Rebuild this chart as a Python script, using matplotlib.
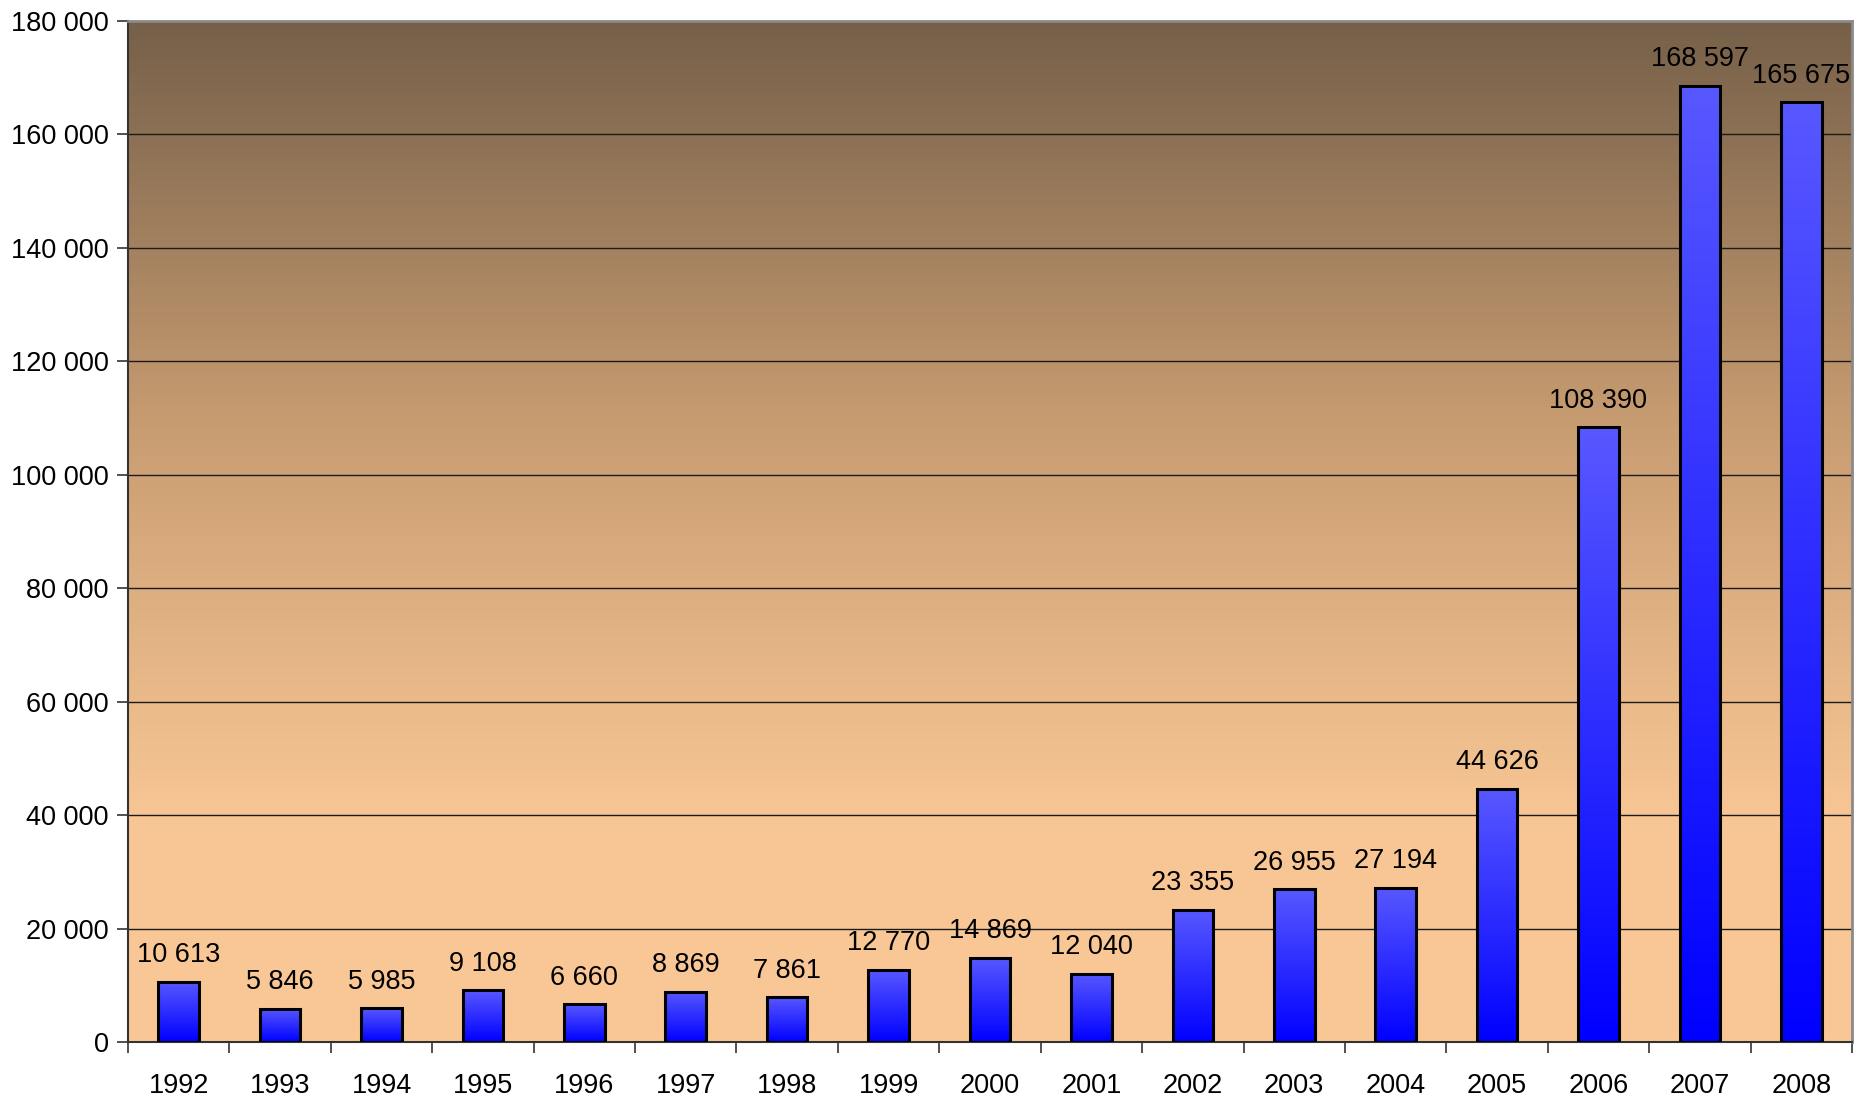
import numpy as np
import matplotlib.pyplot as plt
from matplotlib.colors import LinearSegmentedColormap

years = [str(y) for y in range(1992, 2009)]
values = [10613, 5846, 5985, 9108, 6660, 8869, 7861, 12770, 14869, 12040,
          23355, 26955, 27194, 44626, 108390, 168597, 165675]
y_ticks = [0, 20000, 40000, 60000, 80000, 100000, 120000, 140000, 160000, 180000]


def fmt(v):
    return f"{v:,}".replace(",", " ")


plt.rcParams['font.family'] = ['Liberation Sans', 'DejaVu Sans']

fig = plt.figure(figsize=(18.71, 10.98), dpi=100)
ax = fig.add_axes([128 / 1871, 1 - 1042 / 1098, (1852 - 128) / 1871, (1042 - 21) / 1098])

n = len(years)
x = np.arange(n)
ax.set_xlim(-0.5, n - 0.5)
ax.set_ylim(0, 180000)

# background gradient: brown at top, peach toward the bottom
bg = LinearSegmentedColormap.from_list(
    "bg", [(0.0, "#fac896"), (0.22, "#f8c694"), (0.6, "#c99d72"), (1.0, "#766049")])
grad = np.linspace(0, 1, 256).reshape(-1, 1)
ax.imshow(grad, aspect="auto", cmap=bg, origin="lower",
          extent=(-0.5, n - 0.5, 0, 180000), zorder=0)

for t in y_ticks[1:-1]:
    ax.axhline(t, color="#1a1a1a", lw=1.0, zorder=1)

# bars with vertical blue gradient
bar_cmap = LinearSegmentedColormap.from_list("bar", ["#0000ff", "#5858ff"])
w = 0.4
for xi, v in zip(x, values):
    ax.imshow(grad, aspect="auto", cmap=bar_cmap, origin="lower",
              extent=(xi - w / 2, xi + w / 2, 0, v), zorder=2)
    ax.bar(xi, v, width=w, facecolor="none", edgecolor="black", lw=2.2, zorder=3)
    ax.annotate(fmt(v), (xi, v), xytext=(0, 14), textcoords="offset points",
                ha="center", va="baseline", fontsize=19.5, zorder=4)

ax.set_xticks(x)
ax.set_xticklabels(years, fontsize=19.5)
ax.set_xticks(np.arange(-0.5, n), minor=True)
ax.tick_params(axis="x", which="major", length=0, pad=22)
ax.tick_params(axis="x", which="minor", length=8, width=1.2, color="#333333")

ax.set_yticks(y_ticks)
ax.set_yticklabels([fmt(t) for t in y_ticks], fontsize=19.5)
ax.tick_params(axis="y", length=8, width=1.2, color="#333333", pad=6)

ax.spines["left"].set_color("#333333")
ax.spines["left"].set_linewidth(1.5)
ax.spines["bottom"].set_color("#333333")
ax.spines["bottom"].set_linewidth(1.5)
ax.spines["top"].set_color("#8a8a8a")
ax.spines["top"].set_linewidth(2)
ax.spines["right"].set_color("#8a8a8a")
ax.spines["right"].set_linewidth(2)

fig.savefig("out.png", dpi=100)
